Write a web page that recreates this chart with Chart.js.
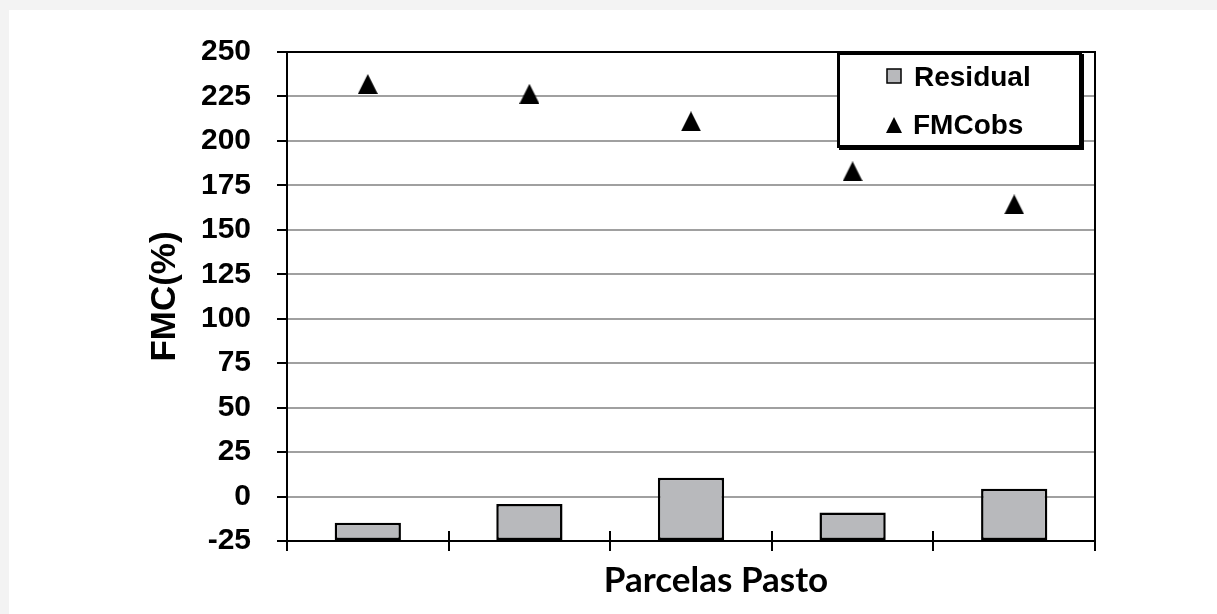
<!DOCTYPE html>
<html>
<head>
<meta charset="utf-8">
<script src="https://cdn.jsdelivr.net/npm/chart.js@4"></script>
<style>
  html, body { margin: 0; padding: 0; background: #f3f3f3; }
  #frame { position: absolute; left: 9px; top: 10px; right: 0; bottom: 0; background: #fff; }
  #wrap { position: absolute; left: 0; top: 0; width: 1217px; height: 614px; }
</style>
</head>
<body>
<div id="frame"></div>
<div id="wrap"><canvas id="myChart" width="1217" height="614"></canvas></div>
<script>
// data
const categories = ['1', '2', '3', '4', '5'];
const residual = [-14.7, -4.2, 10.5, -9.0, 4.4];
const fmc_obs = [232.0, 226.5, 211.0, 182.9, 164.3];
const y_min = -25;
const y_max = 250;
const y_step = 25;
const x_title = 'Parcelas Pasto';

const axis_font = 'Liberation Sans, Arial, sans-serif';

// triangle marker, centred on its box like the original
function make_triangle(w, h) {
    const c = document.createElement('canvas');
    c.width = w;
    c.height = h;
    const g = c.getContext('2d');
    g.fillStyle = '#000';
    g.beginPath();
    g.moveTo(w / 2, 0);
    g.lineTo(w, h);
    g.lineTo(0, h);
    g.closePath();
    g.fill();
    return c;
}
const triangle = make_triangle(20, 20);
const legend_triangle = make_triangle(16, 16);

// plot frame, crossing x ticks, x title (sits right of centre) and the boxed legend
const frame_plugin = {
    id: 'frame_plugin',
    afterDraw(chart) {
        const ctx = chart.ctx;
        const a = chart.chartArea;
        ctx.save();
        ctx.strokeStyle = '#000';
        ctx.lineWidth = 2;
        ctx.beginPath();
        ctx.moveTo(a.left, a.top);
        ctx.lineTo(a.right, a.top);
        ctx.lineTo(a.right, a.bottom);
        ctx.stroke();
        // x ticks also reach a bit into the plot
        const n = categories.length;
        for (let i = 0; i <= n; i++) {
            const px = Math.round(a.left + (a.right - a.left) * i / n);
            ctx.beginPath();
            ctx.moveTo(px, a.bottom - 10);
            ctx.lineTo(px, a.bottom);
            ctx.stroke();
        }

        // x title
        ctx.fillStyle = '#000';
        ctx.font = 'bold 35px Lato, Open Sans, sans-serif';
        ctx.textAlign = 'center';
        ctx.textBaseline = 'alphabetic';
        ctx.fillText(x_title, (a.left + a.right) / 2 + 25, a.bottom + 51);

        // legend
        const bw = 245, bh = 96;
        const bx = a.right - 13 - bw;
        const by = a.top;
        ctx.fillStyle = '#fff';
        ctx.fillRect(bx, by, bw, bh);
        ctx.fillStyle = '#000';
        ctx.fillRect(bx + 2, by + bh - 2, bw, 4);
        ctx.fillRect(bx + bw - 2, by + 2, 4, bh);
        ctx.lineWidth = 3;
        ctx.strokeRect(bx + 1.5, by + 1.5, bw - 3, bh - 3);

        const ds = chart.data.datasets;
        ctx.font = 'bold 28px ' + axis_font;
        ctx.textBaseline = 'middle';
        ctx.textAlign = 'left';
        // Residual row
        ctx.fillStyle = ds[0].backgroundColor;
        ctx.fillRect(bx + 50, by + 17, 14, 14);
        ctx.lineWidth = 1.5;
        ctx.strokeStyle = '#000';
        ctx.strokeRect(bx + 50, by + 17, 14, 14);
        ctx.fillStyle = '#000';
        ctx.fillText(ds[0].label, bx + 77, by + 26);
        // FMCobs row
        ctx.drawImage(legend_triangle, bx + 49, by + 65);
        ctx.fillText(ds[1].label, bx + 76, by + 74);
        ctx.restore();
    }
};

function draw_chart() {
    const ctx = document.getElementById('myChart');
    new Chart(ctx, {
        type: 'bar',
        data: {
            labels: categories,
            datasets: [{
                label: 'Residual',
                data: residual,
                base: y_min,
                backgroundColor: '#b8b9bc',
                borderColor: '#000',
                borderWidth: 2.5,
                borderSkipped: false,
                categoryPercentage: 1.0,
                barPercentage: 0.41,
                order: 2
            }, {
                type: 'line',
                label: 'FMCobs',
                data: fmc_obs,
                showLine: false,
                pointStyle: triangle,
                pointRadius: 10,
                pointHoverRadius: 10,
                order: 1
            }]
        },
        plugins: [frame_plugin],
        options: {
            responsive: false,
            animation: false,
            layout: {
                padding: { left: 140, top: 52, right: 122, bottom: 15 }
            },
            plugins: {
                legend: { display: false },
                tooltip: { enabled: false },
                title: { display: false }
            },
            scales: {
                x: {
                    afterFit: function(scale) { scale.height = 58; },
                    grid: {
                        offset: true,
                        drawOnChartArea: false,
                        tickLength: 10,
                        tickColor: '#000',
                        lineWidth: 2
                    },
                    border: { color: '#000', width: 2 },
                    ticks: { display: false }
                },
                y: {
                    min: y_min,
                    max: y_max,
                    afterFit: function(scale) { scale.width = 147; },
                    grid: {
                        color: '#a0a0a0',
                        lineWidth: 2,
                        tickColor: '#000',
                        tickLength: 10
                    },
                    border: { color: '#000', width: 2 },
                    ticks: {
                        stepSize: y_step,
                        color: '#000',
                        padding: 26,
                        font: { family: axis_font, size: 30, weight: 'bold' }
                    },
                    title: {
                        display: true,
                        text: 'FMC(%)',
                        color: '#000',
                        font: { family: axis_font, size: 35, weight: 'bold' },
                        padding: { top: 4, bottom: 0 }
                    }
                }
            }
        }
    });
}
draw_chart();
</script>
</body>
</html>
